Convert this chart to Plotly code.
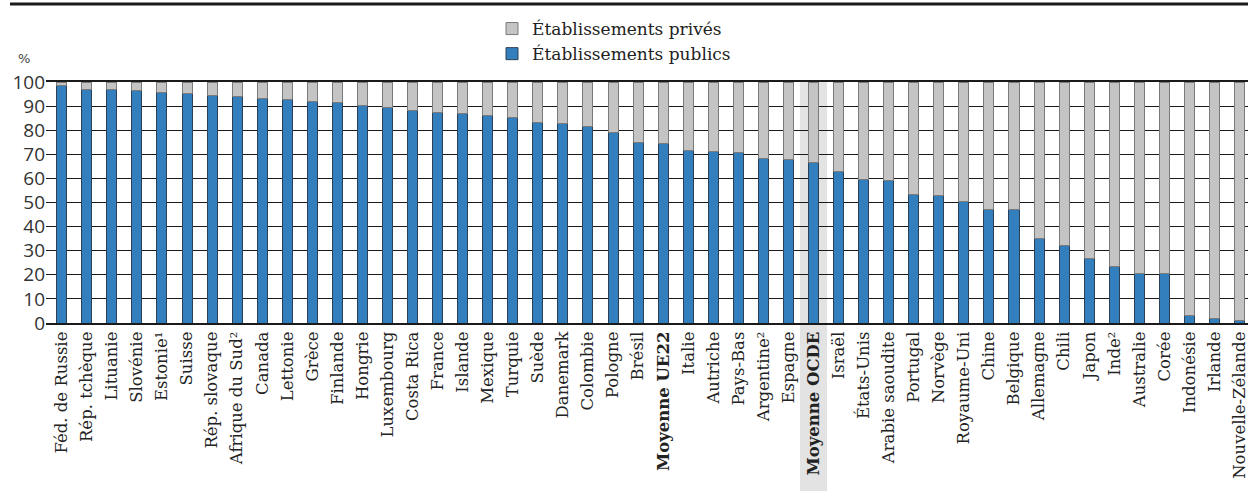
import plotly.graph_objects as go

countries = ["Féd. de Russie", "Rép. tchèque", "Lituanie", "Slovénie", "Estonie¹", "Suisse",
             "Rép. slovaque", "Afrique du Sud²", "Canada", "Lettonie", "Grèce", "Finlande",
             "Hongrie", "Luxembourg", "Costa Rica", "France", "Islande", "Mexique", "Turquie",
             "Suède", "Danemark", "Colombie", "Pologne", "Brésil", "<b>Moyenne UE22</b>",
             "Italie", "Autriche", "Pays-Bas", "Argentine²", "Espagne", "<b>Moyenne OCDE</b>",
             "Israël", "États-Unis", "Arabie saoudite", "Portugal", "Norvège", "Royaume-Uni",
             "Chine", "Belgique", "Allemagne", "Chili", "Japon", "Inde²", "Australie", "Corée",
             "Indonésie", "Irlande", "Nouvelle-Zélande"]

public = [98.6, 96.8, 96.8, 96.4, 95.7, 95.2, 94.5, 93.8, 93.1, 92.8, 92.0, 91.6,
          90.3, 89.4, 88.0, 87.2, 86.9, 85.9, 85.2, 83.2, 82.9, 81.6, 79.0, 74.8, 74.4,
          71.5, 71.1, 70.7, 68.2, 67.8, 66.8, 62.8, 59.5, 59.1, 53.4, 53.1, 50.6,
          47.3, 47.1, 35.1, 32.1, 26.7, 23.4, 20.5, 20.5, 3.2, 1.7, 1.2]
private = [round(100 - v, 1) for v in public]

y_ticks = [0, 10, 20, 30, 40, 50, 60, 70, 80, 90, 100]
highlight = "<b>Moyenne OCDE</b>"

W, H = 1248, 491
L, T, B = 46, 82, 168
plot_h = H - T - B

idx = list(range(len(countries)))

fig = go.Figure()
fig.add_trace(go.Bar(
    x=idx, y=public, name="Établissements publics", legendgroup="pub",
    marker=dict(color="#337fbe", line=dict(color="#2d3f55", width=1)),
))
fig.add_trace(go.Bar(
    x=idx, y=private, name="Établissements privés", legendgroup="priv",
    marker=dict(color="#c4c4c4", line=dict(color="#7a7a7a", width=1)),
))

hi = countries.index(highlight)
fig.add_shape(type="rect", xref="x", yref="paper", x0=hi - 0.54, x1=hi + 0.54,
              y0=-(H - T - plot_h) / plot_h - 0.01, y1=1, fillcolor="#e3e3e3",
              line=dict(width=0), layer="below")
# top rule
fig.add_shape(type="line", xref="paper", yref="paper",
              x0=(10 - L) / (W - L), x1=1, y0=1 + (T - 4) / plot_h, y1=1 + (T - 4) / plot_h,
              line=dict(color="#1a1a1a", width=3))

fig.add_annotation(text="%", xref="paper", yref="paper",
                   x=(24 - L) / (W - L), y=1 + (T - 59) / plot_h,
                   showarrow=False, font=dict(family="DejaVu Sans", size=13, color="#444"),
                   xanchor="center", yanchor="middle")

x0r = -0.627
fig.update_layout(
    width=W, height=H,
    margin=dict(l=L, r=0, t=T, b=B, autoexpand=False),
    barmode="stack", bargap=0.6,
    paper_bgcolor="white", plot_bgcolor="rgba(0,0,0,0)",
    showlegend=True,
    legend=dict(traceorder="reversed", x=(492 - L) / (W - L), xanchor="left",
                y=1 + (T - 11) / plot_h, yanchor="top", tracegroupgap=10,
                font=dict(family="DejaVu Serif", size=17, color="#222"),
                bgcolor="rgba(0,0,0,0)"),
    xaxis=dict(tickmode="array", tickvals=idx, ticktext=countries, tickangle=-90,
               range=[x0r, x0r + (W - L) / 25.06], showgrid=False, automargin=False,
               showline=True, mirror=True, linecolor="#1a1a1a", linewidth=2,
               ticklabeloverflow="allow",
               tickfont=dict(family="DejaVu Serif", size=16.5, color="#222"),
               ticks="", ticklen=0),
    yaxis=dict(range=[0, 100], tickvals=y_ticks, showgrid=True, gridcolor="#1a1a1a",
               gridwidth=1, zeroline=False, showline=False, ticks="", automargin=False,
               tickfont=dict(family="Open Sans", size=19, color="#333")),
)

fig.write_html("out.html", config={"displayModeBar": False},
               post_script="document.body.style.margin='0';document.body.style.overflow='hidden';")
